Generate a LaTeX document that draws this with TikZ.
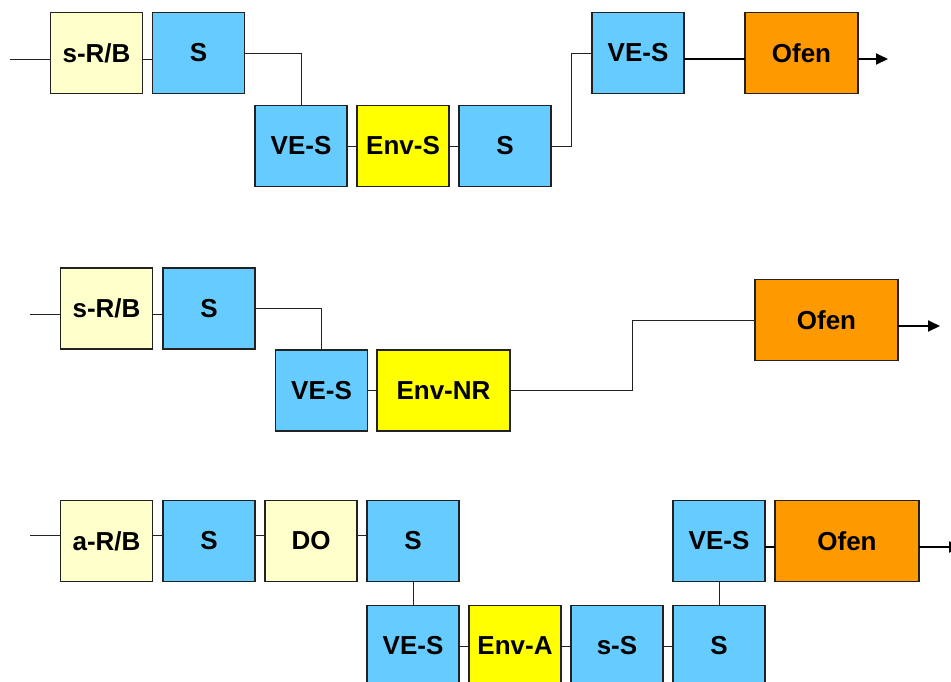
\documentclass[tikz,border=0pt]{standalone}
\usepackage{fontspec}
\setmainfont{Liberation Sans}
\usetikzlibrary{arrows.meta}
\definecolor{lyel}{HTML}{FFFFCC}
\definecolor{lblue}{HTML}{66CCFF}
\definecolor{yel}{HTML}{FFFF00}
\definecolor{orng}{HTML}{FF9900}
\definecolor{edge}{HTML}{222222}
\begin{document}
\begin{tikzpicture}[x=1pt,y=-1pt,
  bx/.style={draw=edge,line width=1.1pt,minimum width=92pt,minimum height=81pt,inner sep=0pt,outer sep=0pt,
    font=\fontsize{26}{29}\selectfont\bfseries},
  ly/.style={bx,fill=lyel},
  bl/.style={bx,fill=lblue},
  ye/.style={bx,fill=yel},
  og/.style={bx,fill=orng},
  ln/.style={draw=edge,line width=0.9pt},
  thk/.style={draw=black,line width=1.6pt},
  arr/.style={draw=black,line width=2pt,-{Triangle[length=12pt,width=11pt]}}]
\useasboundingbox (0,0) rectangle (951,681);
\clip (0,0) rectangle (951,681);
% Row 1
\node[ly] (a1) at (96.5,53) {s-R/B};
\node[bl] (a2) at (198.5,53) {S};
\node[bl] (a3) at (301,146) {VE-S};
\node[ye] (a4) at (403,146) {Env-S};
\node[bl] (a5) at (505,146) {S};
\node[bl] (a6) at (638,53) {VE-S};
\node[og,minimum width=113pt] (a7) at (801.5,53) {Ofen};
\coordinate (a0) at (10,59);
\coordinate (ae) at (888,59);
\draw[ln] (a0) -- ([yshift=-6pt]a1.west);
\draw[ln] ([yshift=-6pt]a1.east) -- ([yshift=-6pt]a2.west);
\draw[ln] (a2.east) -| (a3.north);
\draw[ln] (a3.east) -- (a4.west);
\draw[ln] (a4.east) -- (a5.west);
\draw[ln] (a5.east) -- ++(20,0) |- (a6.west);
\draw[thk] ([yshift=-6pt]a6.east) -- ([yshift=-6pt]a7.west);
\draw[arr] ([yshift=-6pt]a7.east) -- (ae);
% Row 2
\node[ly] (b1) at (106.5,308.5) {s-R/B};
\node[bl] (b2) at (209,308.5) {S};
\node[bl] (b3) at (321.5,390.5) {VE-S};
\node[ye,minimum width=133pt] (b4) at (443.5,390.5) {Env-NR};
\node[og,minimum width=143pt] (b5) at (826.5,320) {Ofen};
\coordinate (b0) at (30,314.5);
\coordinate (be) at (940,326);
\draw[ln] (b0) -- ([yshift=-6pt]b1.west);
\draw[ln] ([yshift=-6pt]b1.east) -- ([yshift=-6pt]b2.west);
\draw[ln] (b2.east) -| (b3.north);
\draw[ln] (b3.east) -- (b4.west);
\draw[ln] (b4.east) -- (632,390.5) |- (b5.west);
\draw[arr] ([yshift=-6pt]b5.east) -- (be);
% Row 3
\node[ly] (c1) at (106.5,541) {a-R/B};
\node[bl] (c2) at (209,541) {S};
\node[ly] (c3) at (311,541) {DO};
\node[bl] (c4) at (413,541) {S};
\node[bl] (c5) at (413,646) {VE-S};
\node[ye] (c6) at (515,646) {Env-A};
\node[bl] (c7) at (617,646) {s-S};
\node[bl] (c8) at (719,646) {S};
\node[bl] (c9) at (719,541) {VE-S};
\node[og,minimum width=144pt] (c10) at (847,541) {Ofen};
\coordinate (c0) at (30,535);
\coordinate (ce) at (961,547);
\draw[ln] (c0) -- ([yshift=6pt]c1.west);
\draw[ln] ([yshift=6pt]c1.east) -- ([yshift=6pt]c2.west);
\draw[ln] ([yshift=6pt]c2.east) -- ([yshift=6pt]c3.west);
\draw[ln] ([yshift=6pt]c3.east) -- ([yshift=6pt]c4.west);
\draw[ln] (c4.south) -- (c5.north);
\draw[ln] (c5.east) -- (c6.west);
\draw[ln] (c6.east) -- (c7.west);
\draw[ln] (c7.east) -- (c8.west);
\draw[ln] (c8.north) -- (c9.south);
\draw[thk] ([yshift=-6pt]c9.east) -- ([yshift=-6pt]c10.west);
\draw[arr] ([yshift=-6pt]c10.east) -- (ce);
\end{tikzpicture}
\end{document}
